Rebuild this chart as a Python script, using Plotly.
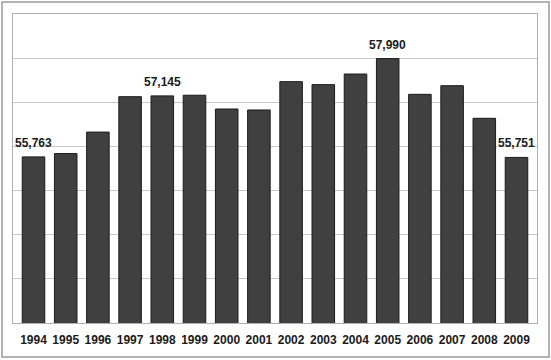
import plotly.graph_objects as go

years = [str(y) for y in range(1994, 2010)]
values = [55763, 55838, 56325, 57127, 57145, 57160, 56848, 56826,
          57467, 57400, 57640, 57990, 57180, 57376, 56637, 55751]
labelled = {"1994": "55,763", "1998": "57,145", "2005": "57,990", "2009": "55,751"}

FONT = "Liberation Sans, Arial"

fig = go.Figure()
fig.add_trace(go.Bar(
    x=years, y=values,
    marker=dict(color="#404040", line=dict(color="#1a1a1a", width=1)),
    hoverinfo="skip",
))

annotations = [
    dict(x=years.index(y), y=v, xref="x", yref="y", text=labelled[y], showarrow=False,
         yanchor="bottom", yshift=5,
         font=dict(family=FONT, size=12, color="#1a1a1a", weight="bold"))
    for y, v in zip(years, values) if y in labelled
]

fig.update_layout(
    width=551, height=360,
    margin=dict(l=13, r=14, t=14, b=37, autoexpand=False),
    paper_bgcolor="white", plot_bgcolor="white",
    bargap=0.3, showlegend=False,
    font=dict(family=FONT, size=12, color="#1a1a1a"),
    annotations=annotations,
    shapes=[dict(type="rect", xref="paper", yref="paper",
                 x0=-11/524, x1=1 + 12/524, y0=-34/309, y1=1 + 12/309,
                 line=dict(color="#9a9a9a", width=1.5), layer="below")],
)
fig.update_xaxes(type="category", showline=True, linecolor="#b0b0b0", mirror=True, linewidth=1,
                 ticks="outside", ticklen=6, tickcolor="rgba(0,0,0,0)",
                 tickfont=dict(family=FONT, size=12, color="#1a1a1a", weight="bold"),
                 showgrid=False)
fig.update_yaxes(range=[52000, 59000], dtick=1000, showticklabels=False,
                 showgrid=True, gridcolor="#c8c8c8", gridwidth=1,
                 showline=True, linecolor="#b0b0b0", mirror=True, zeroline=False)

fig.write_html("out.html", post_script="document.body.style.margin='0';",
               config={"displayModeBar": False, "staticPlot": True})
